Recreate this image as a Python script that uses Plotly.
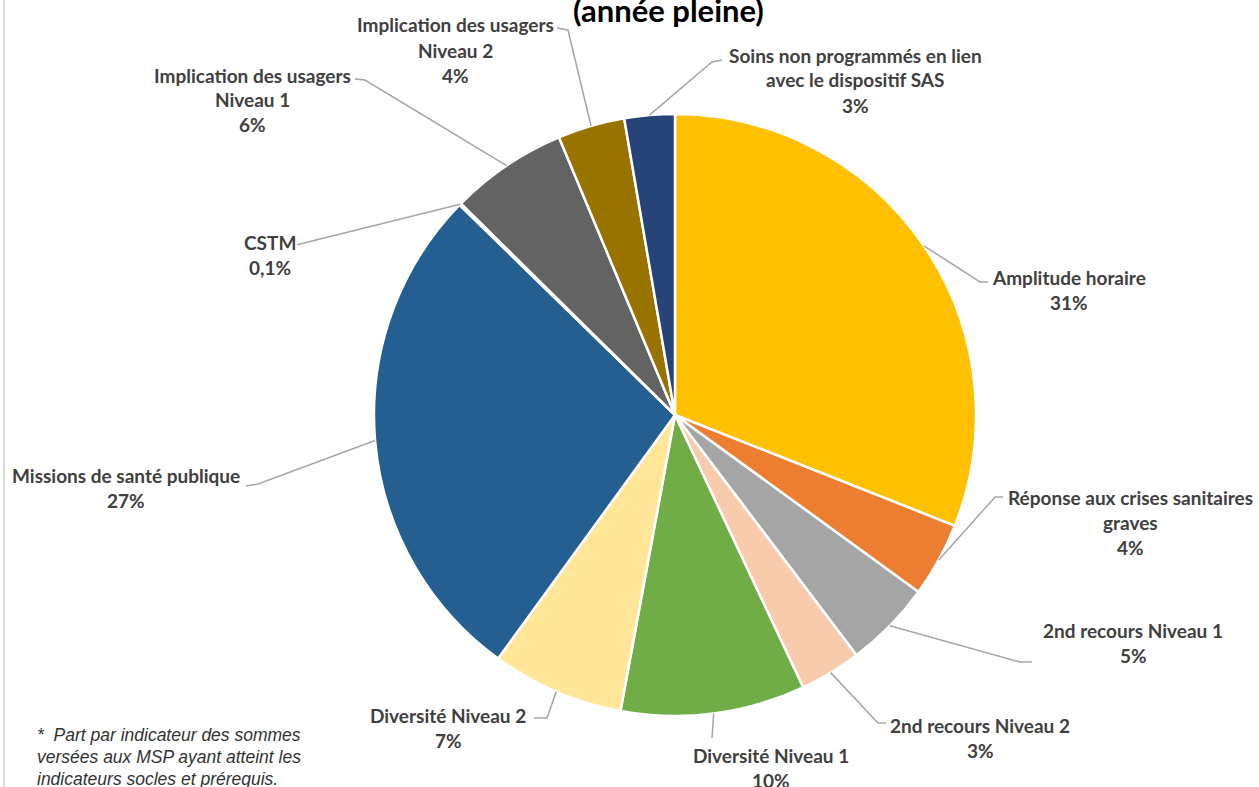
import math
import plotly.graph_objects as go

W, H = 1259, 787

# ---- data ----
categories = [
    "Amplitude horaire",
    "Réponse aux crises sanitaires graves",
    "2nd recours Niveau 1",
    "2nd recours Niveau 2",
    "Diversité Niveau 1",
    "Diversité Niveau 2",
    "Missions de santé publique",
    "CSTM",
    "Implication des usagers Niveau 1",
    "Implication des usagers Niveau 2",
    "Soins non programmés en lien avec le dispositif SAS",
]
values = [31.0, 4.0, 4.7, 3.3, 9.9, 7.1, 27.3, 0.1, 6.3, 3.6, 2.7]
pct_labels = ["31%", "4%", "5%", "3%", "10%", "7%", "27%", "0,1%", "6%", "4%", "3%"]
label_lines = [
    ["Amplitude horaire"],
    ["Réponse aux crises sanitaires", "graves"],
    ["2nd recours Niveau 1"],
    ["2nd recours Niveau 2"],
    ["Diversité Niveau 1"],
    ["Diversité Niveau 2"],
    ["Missions de santé publique"],
    ["CSTM"],
    ["Implication des usagers", "Niveau 1"],
    ["Implication des usagers", "Niveau 2"],
    ["Soins non programmés en lien", "avec le dispositif SAS"],
]

# ---- style ----
colors = ["#FFC000", "#ED7D31", "#A5A5A5", "#F8CBAD", "#70AD47", "#FFE699",
          "#255E91", "#9E480E", "#636363", "#997300", "#264478"]
# label block positions (center x, first line y) in pixels
label_pos = [(1069, 277), (1130, 497), (1133, 630), (980, 725), (771, 755),
             (448, 715), (126, 475), (270, 242), (252, 75), (455, 25), (855, 55)]
# leader elbow and end points in pixels
leader_pts = [
    [(980, 282), (988, 282)],
    [(995, 497), (1003, 497)],
    [(1020, 662), (1032, 662)],
    [(878, 723), (886, 723)],
    [(712, 738)],
    [(547, 718), (534, 718)],
    [(258, 484), (246, 486)],
    [(300, 244), (297, 245)],
    [(365, 80), (355, 79)],
    [(568, 30), (557, 28)],
    [(712, 62), (722, 60)],
]
cx, cy, R = 675, 415, 301
LINE_H = 25
text_color = "#404040"
label_font = dict(family="Lato", size=19, color=text_color)


def px2paper(x, y):
    return x / W, 1 - y / H


fig = go.Figure()
fig.add_trace(go.Pie(
    labels=categories,
    values=values,
    sort=False,
    direction="clockwise",
    rotation=0,
    marker=dict(colors=colors, line=dict(color="white", width=2.5)),
    textinfo="none",
    hoverinfo="label+percent",
    showlegend=False,
    domain=dict(x=[(cx - R) / W, (cx + R) / W],
                y=[(H - cy - R) / H, (H - cy + R) / H]),
))

annotations = []
shapes = []
total = sum(values)
cum = 0.0
for i, v in enumerate(values):
    mid = (cum + v / 2) / total * 2 * math.pi
    cum += v
    ex = cx + R * math.sin(mid)
    ey = cy - R * math.cos(mid)
    pts = [(ex, ey)] + leader_pts[i]
    path = ""
    for k, (x, y) in enumerate(pts):
        px, py = px2paper(x, y)
        path += ("M" if k == 0 else " L") + f" {px:.5f},{py:.5f}"
    shapes.append(dict(type="path", xref="paper", yref="paper", path=path,
                       line=dict(color="#A6A6A6", width=1.5)))
    lx, ly = label_pos[i]
    lines = label_lines[i] + [pct_labels[i]]
    for j, t in enumerate(lines):
        ax, ay = px2paper(lx, ly + j * LINE_H)
        annotations.append(dict(text=f"<b>{t}</b>", x=ax, y=ay, xref="paper",
                                yref="paper", xanchor="center", yanchor="middle",
                                showarrow=False, font=label_font))

# title (partially cut off at top)
tx, ty = px2paper(668, 10)
annotations.append(dict(text="<b>(année pleine)</b>", x=tx, y=ty, xref="paper",
                        yref="paper", xanchor="center", yanchor="middle",
                        showarrow=False,
                        font=dict(family="Lato", size=31, color="#000000")))

# footnote
foot_lines = ["*  Part par indicateur des sommes",
              "versées aux MSP ayant atteint les",
              "indicateurs socles et prérequis."]
for j, t in enumerate(foot_lines):
    fx, fy = px2paper(35, 735 + j * 22)
    annotations.append(dict(text=f"<i>{t}</i>", x=fx, y=fy, xref="paper",
                            yref="paper", xanchor="left", yanchor="middle",
                            showarrow=False,
                            font=dict(family="Liberation Sans", size=17.5,
                                      color="#333333")))

# left border line
shapes.append(dict(type="line", xref="paper", yref="paper",
                   x0=4 / W, x1=4 / W, y0=0, y1=1,
                   line=dict(color="#D9D9D9", width=2)))

fig.update_layout(
    width=W, height=H,
    margin=dict(l=0, r=0, t=0, b=0),
    paper_bgcolor="white",
    plot_bgcolor="white",
    annotations=annotations,
    shapes=shapes,
)

fig.write_html("out.html",
               config={"displayModeBar": False},
               post_script="document.body.style.margin='0';document.body.style.overflow='hidden';")
